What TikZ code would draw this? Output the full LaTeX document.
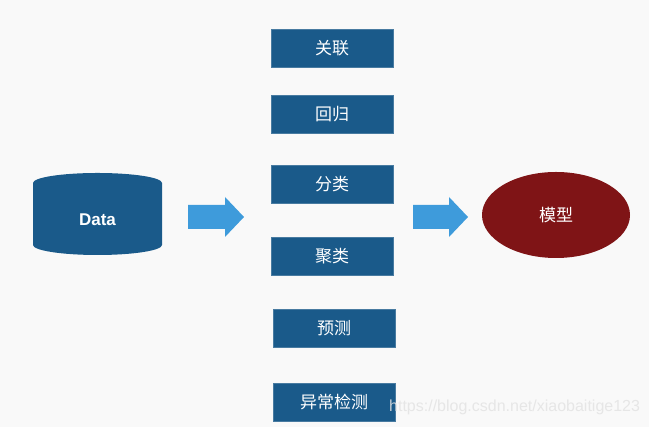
\documentclass[tikz,border=0pt]{standalone}
\usepackage{fontspec}
\newfontfamily\cjk{Noto Sans CJK SC}
\newfontfamily\arialfont{Liberation Sans}
\usetikzlibrary{shapes.geometric}
\definecolor{boxblue}{HTML}{1A5A8A}
\definecolor{arrowblue}{HTML}{3E9BDB}
\definecolor{modelred}{HTML}{7F1416}
\definecolor{bggray}{HTML}{F9F9F9}

\begin{document}
\begin{tikzpicture}[x=1pt,y=1pt,
  taskbox/.style={fill=boxblue,draw=boxblue!80!white,line width=0.4pt,minimum width=122pt,minimum height=38pt,inner sep=0pt,text=white,font=\cjk\fontsize{17}{17}\selectfont},
  blockarrow/.style={fill=arrowblue,draw=none}]
\fill[bggray] (0,0) rectangle (649,427);
\useasboundingbox (0,0) rectangle (649,427);
% data cylinder
\fill[boxblue] (33,244) -- (33,182) arc[start angle=180,end angle=360,x radius=64.5,y radius=10]
  -- (162,244) arc[start angle=0,end angle=180,x radius=64.5,y radius=10] -- cycle;
\node[text=white,font=\arialfont\bfseries\fontsize{17}{17}\selectfont] (data) at (97.5,207) {Data};
% arrows
\fill[blockarrow] (188,198) -- (225,198) -- (225,190) -- (244,210) -- (225,230) -- (225,222) -- (188,222) -- cycle;
\fill[blockarrow] (413,198) -- (449,198) -- (449,190) -- (468,210) -- (449,230) -- (449,222) -- (413,222) -- cycle;
% task boxes
\node[taskbox] (assoc) at (332,378.5) {关联};
\node[taskbox] (regr) at (332,313) {回归};
\node[taskbox] (classif) at (332,243) {分类};
\node[taskbox] (cluster) at (332,170.5) {聚类};
\node[taskbox] (predict) at (334,98.5) {预测};
\node[taskbox] (anomaly) at (334,25) {异常检测};
% model
\node[ellipse,fill=modelred,minimum width=148pt,minimum height=86pt,inner sep=0pt,text=white,font=\cjk\fontsize{17}{17}\selectfont] (model) at (556,212) {模型};
% watermark
\node[anchor=west,inner sep=0pt,text=white!78!gray,opacity=0.85,font=\arialfont\fontsize{16}{16}\selectfont] (mark) at (389,20) {https://blog.csdn.net/xiaobaitige123};
\end{tikzpicture}
\end{document}
